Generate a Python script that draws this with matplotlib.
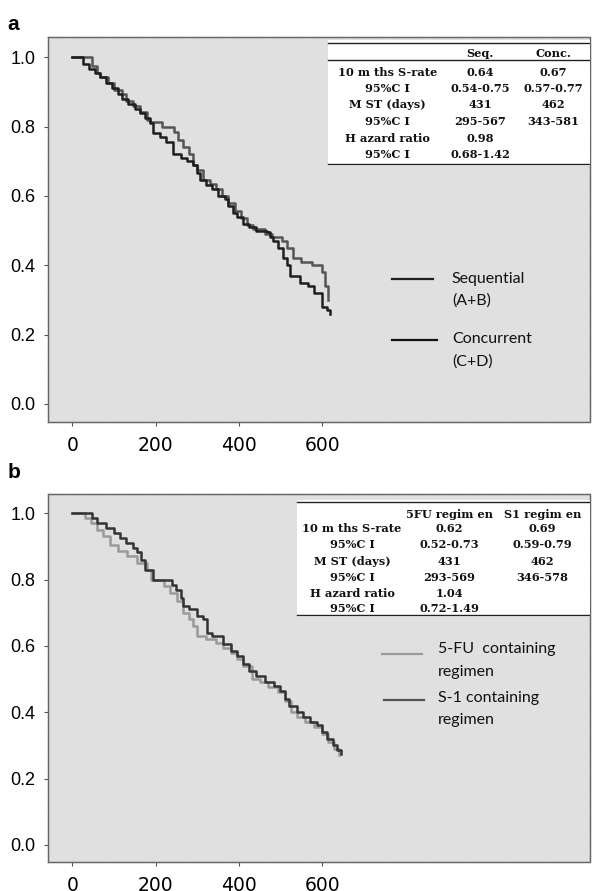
import numpy as np
import matplotlib
matplotlib.use("Agg")
import matplotlib.pyplot as plt

# ---- data (days, survival after each step) ----
seq_t = [0, 27, 40, 55, 67, 80, 95, 110, 120, 135, 150, 163, 175, 187, 195, 210, 225, 243,
         260, 275, 290, 300, 307, 320, 335, 350, 367, 375, 385, 395, 410, 425, 440, 467,
         475, 483, 495, 505, 515, 523, 547, 565, 580, 600, 612, 619]
seq_s = [1.0, 0.98, 0.965, 0.953, 0.943, 0.925, 0.91, 0.895, 0.88, 0.865, 0.85, 0.84, 0.825,
         0.81, 0.78, 0.77, 0.755, 0.72, 0.71, 0.70, 0.69, 0.665, 0.645, 0.63, 0.62, 0.60, 0.59,
         0.57, 0.55, 0.54, 0.52, 0.51, 0.50, 0.495, 0.48, 0.47, 0.45, 0.42, 0.40, 0.37, 0.35,
         0.34, 0.32, 0.28, 0.27, 0.26]
conc_t = [0, 47, 60, 67, 85, 100, 119, 130, 145, 163, 180, 187, 215, 245, 255, 265, 280, 290,
          300, 315, 330, 345, 360, 375, 390, 405, 419, 435, 462, 480, 504, 515, 531, 550, 575,
          600, 607, 614]
conc_s = [1.0, 0.975, 0.955, 0.943, 0.925, 0.905, 0.895, 0.875, 0.86, 0.842, 0.82, 0.813, 0.80,
          0.785, 0.76, 0.74, 0.72, 0.69, 0.675, 0.645, 0.635, 0.62, 0.60, 0.58, 0.555, 0.535,
          0.515, 0.505, 0.49, 0.48, 0.47, 0.45, 0.42, 0.41, 0.40, 0.38, 0.34, 0.30]

s1_t = [0, 47, 60, 80, 100, 115, 130, 145, 155, 165, 175, 195, 240, 250, 260, 267, 280, 300,
        315, 323, 335, 363, 380, 395, 410, 425, 440, 462, 485, 499, 510, 520, 540, 555, 570,
        587, 600, 612, 625, 635, 645]
s1_s = [1.0, 0.985, 0.97, 0.955, 0.94, 0.925, 0.91, 0.895, 0.884, 0.86, 0.83, 0.80, 0.785,
        0.77, 0.745, 0.72, 0.71, 0.69, 0.68, 0.64, 0.63, 0.605, 0.585, 0.57, 0.545, 0.525,
        0.51, 0.49, 0.48, 0.465, 0.44, 0.42, 0.40, 0.385, 0.37, 0.36, 0.34, 0.32, 0.30,
        0.285, 0.275]
fu_t = [0, 31, 45, 59, 75, 91, 111, 131, 155, 179, 190, 220, 235, 251, 267, 280, 291, 299,
        320, 345, 363, 380, 395, 410, 431, 450, 470, 495, 510, 525, 540, 560, 580, 600, 615,
        628, 640]
fu_s = [1.0, 0.985, 0.97, 0.95, 0.93, 0.905, 0.885, 0.87, 0.85, 0.83, 0.80, 0.78, 0.76, 0.735,
        0.70, 0.68, 0.66, 0.63, 0.62, 0.61, 0.595, 0.58, 0.56, 0.54, 0.50, 0.49, 0.475, 0.46,
        0.435, 0.40, 0.385, 0.37, 0.355, 0.335, 0.31, 0.29, 0.27]

# summary tables
rows = ["10 m ths S-rate", "95%C I", "M ST (days)", "95%C I", "H azard ratio", "95%C I"]
tab_a_head = ["Seq.", "Conc."]
tab_a_c1 = ["0.64", "0.54-0.75", "431", "295-567", "0.98", "0.68-1.42"]
tab_a_c2 = ["0.67", "0.57-0.77", "462", "343-581", "", ""]
tab_b_head = ["5FU regim en", "S1 regim en"]
tab_b_c1 = ["0.62", "0.52-0.73", "431", "293-569", "1.04", "0.72-1.49"]
tab_b_c2 = ["0.69", "0.59-0.79", "462", "346-578", "", ""]

xticks = [0, 200, 400, 600]
yticks = [0.0, 0.2, 0.4, 0.6, 0.8, 1.0]

fig = plt.figure(figsize=(5.93, 8.91), dpi=100)
ax1 = fig.add_axes([0.081, 0.5264, 0.914, 0.432])
ax2 = fig.add_axes([0.081, 0.0325, 0.914, 0.413])

serif = dict(family="DejaVu Serif", fontweight="bold", fontsize=8.2, color="#111111")
legfont = dict(family="Lato", fontsize=11.5, color="#111111")


def style_axes(ax):
    ax.set_facecolor("#e0e0e0")
    ax.set_xlim(-58, 1243)
    ax.set_ylim(-0.052, 1.058)
    ax.set_xticks(xticks)
    ax.set_yticks(yticks)
    ax.set_yticklabels(["%.1f" % v for v in yticks], family="Liberation Sans", fontsize=13)
    ax.set_xticklabels([str(v) for v in xticks], family="DejaVu Sans", fontsize=13.5)
    ax.tick_params(length=3, width=0.8, color="#555555", pad=6)
    ax.tick_params(axis="x", pad=7)
    for s in ax.spines.values():
        s.set_color("#666666")
        s.set_linewidth(1.0)
        s.set_linestyle((0, (1, 0.6)))


def draw_table(ax, left, bottom, top, lines, head_y, row_y, xs, head, c1, c2):
    ax.add_patch(plt.Rectangle((left, bottom), 1 - left, top - bottom, transform=ax.transAxes,
                               facecolor="white", edgecolor="none", zorder=3))
    for ly in lines:
        ax.plot([left, 1.0], [ly, ly], transform=ax.transAxes, color="#222222", lw=1.0, zorder=4)
    ax.text(xs[1], head_y, head[0], transform=ax.transAxes, ha="center", va="center", zorder=5, **serif)
    ax.text(xs[2], head_y, head[1], transform=ax.transAxes, ha="center", va="center", zorder=5, **serif)
    for i, y in enumerate(row_y):
        ax.text(xs[0], y, rows[i], transform=ax.transAxes, ha="center", va="center", zorder=5, **serif)
        ax.text(xs[1], y, c1[i], transform=ax.transAxes, ha="center", va="center", zorder=5, **serif)
        ax.text(xs[2], y, c2[i], transform=ax.transAxes, ha="center", va="center", zorder=5, **serif)


def legend_entry(ax, y_line, x0, x1, xt, lab1, lab2, y1, y2, color):
    ax.plot([x0, x1], [y_line, y_line], transform=ax.transAxes, color=color, lw=1.6)
    ax.text(xt, y1, lab1, transform=ax.transAxes, ha="left", va="center", **legfont)
    ax.text(xt, y2, lab2, transform=ax.transAxes, ha="left", va="center", **legfont)


# ---- panel a ----
style_axes(ax1)
ax1.step(conc_t, conc_s, where="post", color="#555555", lw=1.8)
ax1.step(seq_t, seq_s, where="post", color="#1e1e1e", lw=1.8)
draw_table(ax1, 0.517, 0.665, 0.992, [0.984, 0.940, 0.670], 0.957,
           [0.909, 0.866, 0.824, 0.780, 0.737, 0.694], [0.627, 0.797, 0.932],
           tab_a_head, tab_a_c1, tab_a_c2)
legend_entry(ax1, 0.371, 0.635, 0.710, 0.745, "Sequential", "(A+B)", 0.371, 0.315, "#1e1e1e")
legend_entry(ax1, 0.213, 0.635, 0.718, 0.745, "Concurrent", "(C+D)", 0.216, 0.158, "#111111")

# ---- panel b ----
style_axes(ax2)
ax2.step(fu_t, fu_s, where="post", color="#9a9a9a", lw=1.8)
ax2.step(s1_t, s1_s, where="post", color="#333333", lw=1.8)
draw_table(ax2, 0.459, 0.666, 0.984, [0.978, 0.671], 0.945,
           [0.906, 0.862, 0.818, 0.774, 0.729, 0.690], [0.561, 0.740, 0.912],
           tab_b_head, tab_b_c1, tab_b_c2)
legend_entry(ax2, 0.565, 0.616, 0.690, 0.720, "5-FU  containing", "regimen", 0.579, 0.516, "#9a9a9a")
legend_entry(ax2, 0.440, 0.620, 0.694, 0.720, "S-1 containing", "regimen", 0.446, 0.386, "#555555")

fig.text(0.012, 1 - 25 / 891, "a", fontsize=15, fontweight="bold", family="Liberation Sans", va="center")
fig.text(0.012, 1 - 473 / 891, "b", fontsize=15, fontweight="bold", family="Liberation Sans", va="center")

fig.savefig("out.png", dpi=100)
